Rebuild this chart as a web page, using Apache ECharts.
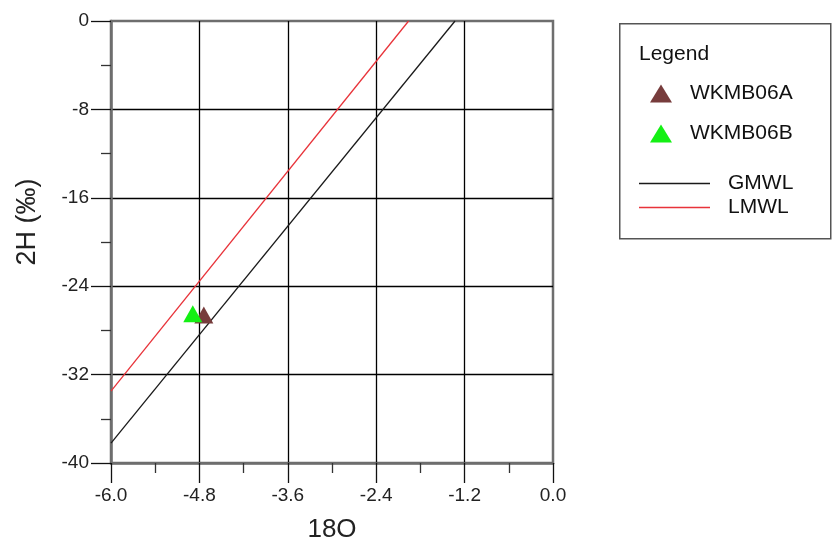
<!DOCTYPE html>
<html>
<head>
<meta charset="utf-8">
<style>
  html, body { margin: 0; padding: 0; background: #fff; }
  #chart { width: 839px; height: 549px; }
</style>
<script src="https://cdn.jsdelivr.net/npm/echarts@6/dist/echarts.min.js"></script>
</head>
<body>
<div id="chart"></div>
<script>
// Stable isotope samples (δ18O, δ2H)
const wkmb06a = [[-4.74, -26.6]];
const wkmb06b = [[-4.89, -26.5]];

// Meteoric water lines, given by their end points across the plotted range
const gmwlX = [-6.0, -1.33];
const gmwlY = [-38.2, 0.0];
const lmwlX = [-6.0, -1.96];
const lmwlY = [-33.5, 0.0];

// Axis ranges
const xRange = { min: -6.0, max: 0.0, step: 1.2 };
const yRange = { min: -40, max: 0, step: 8 };

const FONT = '"Liberation Sans", Arial, sans-serif';
const FRAME = '#6e6e6e';

const pairs = (xs, ys) => xs.map((x, i) => [x, ys[i]]);

const chart = echarts.init(document.getElementById('chart'), null, { renderer: 'canvas' });

const axisCommon = {
  axisLine: { show: true, onZero: false, lineStyle: { color: FRAME, width: 2.5 } },
  axisTick: { show: true, inside: false, length: 20, lineStyle: { color: '#111', width: 1.3 } },
  minorTick: { show: true, splitNumber: 2, length: 10, lineStyle: { color: '#333', width: 1.3 } },
  splitLine: { show: true, showMinLine: false, showMaxLine: false, lineStyle: { color: '#000', width: 1.3 } },
  axisLabel: { color: '#222', fontFamily: FONT, fontSize: 19 },
  nameTextStyle: { color: '#222', fontFamily: FONT, fontSize: 26 }
};

// thin horizontal bar used as the legend swatch for the reference lines
const lineIcon = 'path://M0,0 L71,0 L71,1.4 L0,1.4 Z';

chart.setOption({
  animation: false,
  backgroundColor: '#fff',
  grid: {
    left: 111, top: 21, right: 286, bottom: 86,
    show: true, borderColor: FRAME, borderWidth: 2.5, backgroundColor: 'transparent'
  },
  xAxis: Object.assign({}, axisCommon, {
    type: 'value',
    min: xRange.min, max: xRange.max, interval: xRange.step,
    name: '18O', nameLocation: 'middle', nameGap: 54,
    axisLabel: Object.assign({}, axisCommon.axisLabel, {
      margin: 23,
      formatter: v => (Math.abs(v) < 1e-9 ? 0 : v).toFixed(1)
    })
  }),
  yAxis: Object.assign({}, axisCommon, {
    type: 'value',
    min: yRange.min, max: yRange.max, interval: yRange.step,
    name: '2H (‰)', nameLocation: 'middle', nameGap: 70,
    nameTextStyle: Object.assign({}, axisCommon.nameTextStyle, { fontSize: 27, padding: [0, 0, 0, 40] }),
    axisLabel: Object.assign({}, axisCommon.axisLabel, { margin: 22 })
  }),
  legend: [
    {
      data: ['WKMB06A', 'WKMB06B'],
      orient: 'vertical', left: 645, top: 78,
      itemWidth: 22, itemHeight: 18, itemGap: 19,
      icon: 'triangle',
      textStyle: { color: '#111', fontFamily: FONT, fontSize: 21, padding: [0, 0, 0, 13] }
    },
    {
      data: [
        { name: 'GMWL', icon: lineIcon },
        { name: 'LMWL', icon: lineIcon }
      ],
      orient: 'vertical', left: 634, top: 168,
      itemWidth: 71, itemHeight: 14, itemGap: 3,
      textStyle: { color: '#111', fontFamily: FONT, fontSize: 21, padding: [0, 0, 0, 13] }
    }
  ],
  graphic: [
    {
      type: 'rect', left: 619, top: 23, z: -1,
      shape: { width: 211, height: 215 },
      style: { fill: '#fff', stroke: '#555', lineWidth: 1.5 }
    },
    {
      type: 'text', left: 639, top: 44,
      style: { text: 'Legend', fill: '#111', font: '21px ' + FONT }
    }
  ],
  series: [
    {
      name: 'GMWL', type: 'line', data: pairs(gmwlX, gmwlY),
      symbol: 'none', lineStyle: { color: '#1a1a1a', width: 1.3 },
      itemStyle: { color: '#1a1a1a' }, z: 3
    },
    {
      name: 'LMWL', type: 'line', data: pairs(lmwlX, lmwlY),
      symbol: 'none', lineStyle: { color: '#e8333a', width: 1.3 },
      itemStyle: { color: '#e8333a' }, z: 3
    },
    {
      name: 'WKMB06A', type: 'scatter', data: wkmb06a,
      symbol: 'triangle', symbolSize: [19, 17],
      itemStyle: { color: '#773c3c', opacity: 1 }, z: 4
    },
    {
      name: 'WKMB06B', type: 'scatter', data: wkmb06b,
      symbol: 'triangle', symbolSize: [19, 17],
      itemStyle: { color: '#14f014', opacity: 1 }, z: 5
    }
  ]
});
</script>
</body>
</html>
